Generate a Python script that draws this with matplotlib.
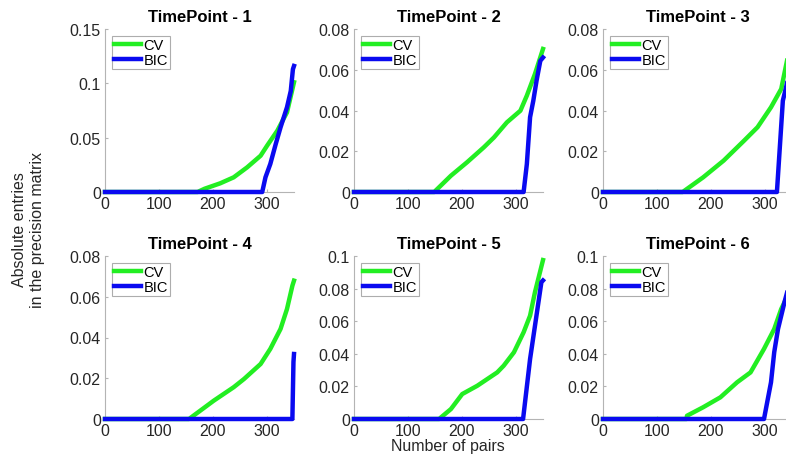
import numpy as np
import matplotlib.pyplot as plt
from matplotlib.ticker import FuncFormatter

plt.rcParams['font.family'] = ['Liberation Sans', 'DejaVu Sans']

# Valori (pair index, |entry|)
titles = ['TimePoint - 1', 'TimePoint - 2', 'TimePoint - 3',
          'TimePoint - 4', 'TimePoint - 5', 'TimePoint - 6']
ymax = [0.15, 0.08, 0.08, 0.08, 0.1, 0.1]
yticks = [[0, 0.05, 0.1, 0.15], [0, 0.02, 0.04, 0.06, 0.08], [0, 0.02, 0.04, 0.06, 0.08],
          [0, 0.02, 0.04, 0.06, 0.08], [0, 0.02, 0.04, 0.06, 0.08, 0.1], [0, 0.02, 0.04, 0.06, 0.08, 0.1]]
n_pairs = 351

cv_x1 = [0, 172, 185, 214, 239, 264, 289, 301, 320, 338, 351]
cv_y1 = [0, 0, 0.003, 0.008, 0.0135, 0.0227, 0.0334, 0.0426, 0.0564, 0.0733, 0.101]
bic_x1 = [0, 292, 298, 307, 317, 326, 338, 345, 349, 351]
bic_y1 = [0, 0, 0.0135, 0.0258, 0.044, 0.0595, 0.078, 0.093, 0.113, 0.116]

cv_x2 = [0, 149, 180, 210, 241, 260, 284, 309, 321, 336, 351]
cv_y2 = [0, 0, 0.008, 0.0146, 0.0219, 0.0268, 0.0342, 0.0399, 0.0473, 0.0579, 0.0702]
bic_x2 = [0, 315, 321, 327, 333, 339, 346, 351]
bic_y2 = [0, 0, 0.0137, 0.0367, 0.0448, 0.0546, 0.0644, 0.066]

cv_x3 = [0, 148, 186, 224, 262, 287, 312, 331, 343, 351]
cv_y3 = [0, 0, 0.0072, 0.0154, 0.0252, 0.0318, 0.0416, 0.0506, 0.0661, 0.071]
bic_x3 = [0, 323, 334, 340, 347, 351]
bic_y3 = [0, 0, 0.0448, 0.0514, 0.0595, 0.065]

cv_x4 = [0, 156, 202, 239, 258, 289, 307, 326, 338, 348, 351]
cv_y4 = [0, 0, 0.009, 0.0156, 0.0196, 0.027, 0.0344, 0.0442, 0.054, 0.0654, 0.0679]
bic_x4 = [0, 348, 350, 351]
bic_y4 = [0, 0, 0.028, 0.0319]

cv_x5 = [0, 158, 180, 201, 229, 266, 278, 297, 315, 327, 336, 351]
cv_y5 = [0, 0, 0.0061, 0.0153, 0.0204, 0.0286, 0.0327, 0.0409, 0.0532, 0.0634, 0.0777, 0.0975]
bic_x5 = [0, 314, 327, 348, 351]
bic_y5 = [0, 0, 0.0368, 0.0839, 0.085]

cv_x6 = [0, 155, 156, 186, 218, 249, 274, 299, 318, 331, 343, 351]
cv_y6 = [0, 0, 0.002, 0.0072, 0.0133, 0.0225, 0.0286, 0.043, 0.0552, 0.0675, 0.0757, 0.08]
bic_x6 = [0, 299, 312, 318, 325, 337, 347, 351]
bic_y6 = [0, 0, 0.0225, 0.041, 0.0552, 0.0716, 0.0839, 0.09]

cv_x = [cv_x1, cv_x2, cv_x3, cv_x4, cv_x5, cv_x6]
cv_y = [cv_y1, cv_y2, cv_y3, cv_y4, cv_y5, cv_y6]
bic_x = [bic_x1, bic_x2, bic_x3, bic_x4, bic_x5, bic_x6]
bic_y = [bic_y1, bic_y2, bic_y3, bic_y4, bic_y5, bic_y6]

W, H = 786, 460
fig = plt.figure(figsize=(W / 100, H / 100), dpi=100)

lefts = [105, 354, 603]
bottoms = [193, 420]
aw, ah = 189, 163
grigio = '#b4b4b4'
testo = '#262626'

for i in range(6):
    r, c = divmod(i, 3)
    ax = fig.add_axes([lefts[c] / W, 1 - bottoms[r] / H, aw / W, ah / H])
    ax.plot(cv_x[i], cv_y[i], color='#22ee22', lw=3.2, label='CV',
            solid_joinstyle='round', clip_on=False, zorder=3)
    ax.plot(bic_x[i], bic_y[i], color='#0a0af0', lw=3.2, label='BIC',
            solid_joinstyle='round', clip_on=False, zorder=3)
    ax.set_xlim(0, n_pairs)
    ax.set_ylim(0, ymax[i])
    ax.set_xticks([0, 100, 200, 300])
    ax.set_yticks(yticks[i])
    ax.yaxis.set_major_formatter(FuncFormatter(lambda v, p: f'{v:g}'))
    for s in ['top', 'right']:
        ax.spines[s].set_visible(False)
    for s in ['left', 'bottom']:
        ax.spines[s].set_color(grigio)
        ax.spines[s].set_linewidth(0.8)
    ax.tick_params(direction='in', length=2.5, color=grigio, labelcolor=testo,
                   labelsize=11.5, pad=3)
    ax.set_title(titles[i], fontsize=12, fontweight='bold', pad=6)
    leg = ax.legend(loc='upper left', fontsize=10.5, fancybox=False, handlelength=1.8,
                    handletextpad=0.2, borderpad=0.15, labelspacing=0.05,
                    borderaxespad=0.5, edgecolor='#999999')
    leg.get_frame().set_linewidth(0.8)
    leg.set_zorder(5)
    for lh in leg.get_lines():
        lh.set_linewidth(3.2)

fig.text(28.5 / W, 0.5, 'Absolute entries\nin the precision matrix', rotation=90,
         ha='center', va='center', fontsize=11.5, color=testo, linespacing=1.2)
fig.text(448 / W, 1 - 447 / H, 'Number of pairs', ha='center', va='center',
         fontsize=11.5, color=testo)

plt.savefig('out.png', dpi=100)
